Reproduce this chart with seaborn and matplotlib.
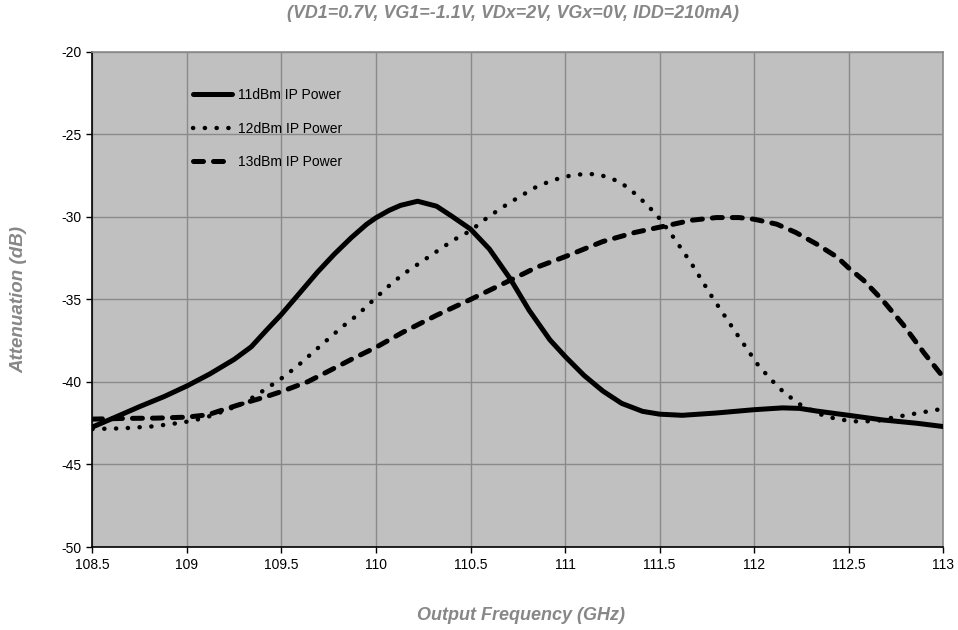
import numpy as np
import pandas as pd
import matplotlib
matplotlib.use("Agg")
import matplotlib.pyplot as plt
import seaborn as sns

# Measured attenuation vs output frequency for three input power levels
freq_11 = [108.5, 108.63, 108.75, 108.88, 109.0, 109.12, 109.25, 109.34, 109.42, 109.5,
           109.6, 109.69, 109.78, 109.87, 109.95, 110.0, 110.07, 110.13, 110.22, 110.32,
           110.4, 110.5, 110.6, 110.71, 110.81, 110.92, 111.0, 111.1, 111.2, 111.3,
           111.41, 111.5, 111.62, 111.8, 112.0, 112.15, 112.24, 112.33, 112.5, 112.68,
           112.86, 113.0]
atten_11 = [-42.73, -42.09, -41.49, -40.88, -40.24, -39.52, -38.63, -37.87, -36.87, -35.9,
            -34.56, -33.35, -32.25, -31.25, -30.45, -30.05, -29.6, -29.3, -29.05, -29.35,
            -29.95, -30.74, -31.95, -33.75, -35.66, -37.45, -38.45, -39.6, -40.55, -41.3,
            -41.78, -41.95, -42.02, -41.88, -41.68, -41.57, -41.6, -41.76, -42.02, -42.3,
            -42.5, -42.7]

freq_12 = [108.5, 108.66, 108.82, 108.98, 109.09, 109.19, 109.3, 109.41, 109.5, 109.58,
           109.66, 109.74, 109.82, 109.9, 109.98, 110.06, 110.14, 110.23, 110.32, 110.41,
           110.5, 110.57, 110.66, 110.75, 110.84, 110.93, 111.03, 111.11, 111.18, 111.29,
           111.37, 111.44, 111.5, 111.58, 111.67, 111.78, 111.9, 112.02, 112.09, 112.16,
           112.25, 112.35, 112.44, 112.55, 112.65, 112.75, 112.86, 112.96, 113.0]
atten_12 = [-42.85, -42.81, -42.69, -42.45, -42.19, -41.79, -41.29, -40.48, -39.78, -39.08,
            -38.27, -37.47, -36.67, -35.96, -35.1, -34.26, -33.5, -32.8, -32.1, -31.4,
            -30.84, -30.2, -29.48, -28.84, -28.23, -27.79, -27.49, -27.39, -27.43, -27.87,
            -28.59, -29.34, -30.1, -31.34, -32.85, -34.89, -36.95, -38.96, -39.86, -40.66,
            -41.42, -41.96, -42.26, -42.4, -42.36, -42.12, -41.9, -41.7, -41.62]

freq_13 = [108.5, 108.66, 108.84, 109.0, 109.11, 109.19, 109.3, 109.41, 109.5, 109.64,
           109.76, 109.88, 110.0, 110.14, 110.32, 110.5, 110.67, 110.85, 111.0, 111.2,
           111.37, 111.53, 111.67, 111.8, 111.92, 112.0, 112.12, 112.22, 112.33, 112.44,
           112.5, 112.58, 112.68, 112.79, 112.9, 113.0]
atten_13 = [-42.25, -42.21, -42.19, -42.13, -41.99, -41.69, -41.29, -40.92, -40.58, -39.98,
            -39.28, -38.57, -37.9, -37.0, -35.96, -35.0, -34.06, -33.05, -32.41, -31.49,
            -30.94, -30.55, -30.2, -30.04, -30.04, -30.14, -30.44, -30.94, -31.64, -32.44,
            -33.09, -33.85, -35.05, -36.55, -38.26, -39.7]

series_labels = ["11dBm IP Power", "12dBm IP Power", "13dBm IP Power"]
x_ticks = [108.5, 109, 109.5, 110, 110.5, 111, 111.5, 112, 112.5, 113]
x_ticklabels = ["108.5", "109", "109.5", "110", "110.5", "111", "111.5", "112", "112.5", "113"]
y_ticks = [-50, -45, -40, -35, -30, -25, -20]

title_text = "(VD1=0.7V, VG1=-1.1V, VDx=2V, VGx=0V, IDD=210mA)"
x_label = "Output Frequency (GHz)"
y_label = "Attenuation (dB)"

sns.set_theme(style="white")
plt.rcParams["font.family"] = ["Liberation Sans", "DejaVu Sans"]
plt.rcParams["axes.unicode_minus"] = False

label_grey = "#878787"

fig = plt.figure(figsize=(9.58, 6.30), dpi=100)
ax = fig.add_axes([0.0965, 0.1317, 0.888, 0.786])
ax.set_facecolor("#c0c0c0")

df11 = pd.DataFrame({"f": freq_11, "a": atten_11})
df12 = pd.DataFrame({"f": freq_12, "a": atten_12})
df13 = pd.DataFrame({"f": freq_13, "a": atten_13})

sns.lineplot(data=df11, x="f", y="a", ax=ax, color="black", linewidth=3.6,
             label=series_labels[0], sort=False)
sns.lineplot(data=df12, x="f", y="a", ax=ax, color="black", linewidth=3.2,
             label=series_labels[1], sort=False)
sns.lineplot(data=df13, x="f", y="a", ax=ax, color="black", linewidth=3.6,
             label=series_labels[2], sort=False)

lines = ax.get_lines()
lines[0].set_solid_capstyle("round")
lines[0].set_solid_joinstyle("round")
lines[1].set_dashes((0.05, 2.6))
lines[1].set_dash_capstyle("round")
lines[2].set_dashes((2.0, 2.0))
lines[2].set_dash_capstyle("round")
lines[2].set_dash_joinstyle("round")
for ln in lines:
    ln.set_zorder(3)

ax.set_xlim(108.5, 113)
ax.set_ylim(-50, -20)
ax.set_xticks(x_ticks)
ax.set_xticklabels(x_ticklabels)
ax.set_yticks(y_ticks)
ax.grid(True, color="#8a8a8a", linewidth=1.0)
ax.set_axisbelow(True)

for side in ("left", "bottom"):
    ax.spines[side].set_color("black")
    ax.spines[side].set_linewidth(1.2)
for side in ("top", "right"):
    ax.spines[side].set_color("#8a8a8a")
    ax.spines[side].set_linewidth(1.2)

ax.tick_params(axis="both", which="major", direction="out", length=4, width=1,
               color="black", labelsize=10, labelcolor="black", pad=4,
               bottom=True, left=True)

ax.set_xlabel(x_label, fontsize=13, fontweight="bold", fontstyle="italic",
              color=label_grey)
ax.set_ylabel(y_label, fontsize=13.5, fontweight="bold", fontstyle="italic",
              color=label_grey)
ax.xaxis.set_label_coords(0.504, -0.139)
ax.xaxis.label.set_va("center")
ax.yaxis.set_label_coords(-0.087, 0.5)
ax.yaxis.label.set_va("center")

fig.text(0.5355, 0.979, title_text, ha="center", va="center", fontsize=12.9,
         fontweight="bold", fontstyle="italic", color=label_grey)

leg = ax.legend(loc="upper left", bbox_to_anchor=(0.112, 0.938), frameon=False,
                fontsize=10, handlelength=2.8, handletextpad=0.43, labelspacing=1.4,
                borderaxespad=0)
for t in leg.get_texts():
    t.set_color("black")

fig.savefig("out.png", dpi=100)
